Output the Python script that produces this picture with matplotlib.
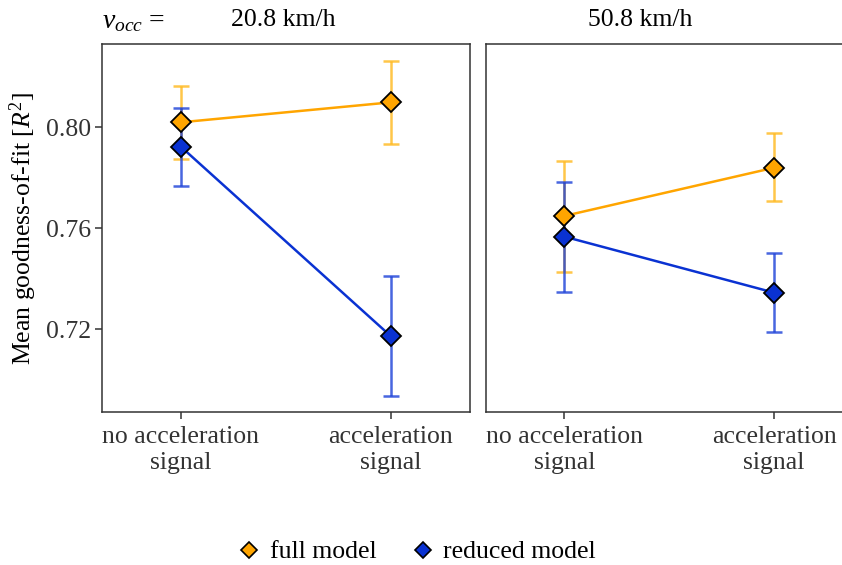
import matplotlib
matplotlib.use("Agg")
import matplotlib.pyplot as plt
from matplotlib.lines import Line2D

plt.rcParams['font.family'] = ['Liberation Serif', 'DejaVu Serif']
plt.rcParams['mathtext.fontset'] = 'custom'
plt.rcParams['mathtext.rm'] = 'Liberation Serif'
plt.rcParams['mathtext.it'] = 'Liberation Serif:italic'

categories = ["no acceleration\nsignal", "acceleration\nsignal"]
speeds = ["20.8 km/h", "50.8 km/h"]
series = ["full model", "reduced model"]

# values per panel: [no acc, acc]
full_mean = [[0.8019, 0.8098], [0.7648, 0.7839]]
full_lo = [[0.7874, 0.7933], [0.7427, 0.7707]]
full_hi = [[0.8164, 0.8263], [0.7865, 0.7975]]
red_mean = [[0.7922, 0.7172], [0.7566, 0.7344]]
red_lo = [[0.7768, 0.6936], [0.7345, 0.7188]]
red_hi = [[0.8076, 0.7410], [0.7783, 0.7500]]

yticks = [0.72, 0.76, 0.80]

c_full = "#FFA500"
c_red = "#0A32D2"
c_full_err = "#FFB81C"
c_red_err = "#1A40D8"
frame = "#333333"
FS = 18.5

W, H = 842, 565
fig = plt.figure(figsize=(W / 100, H / 100), dpi=100)

def px(x0, y0, x1, y1):
    return [x0 / W, 1 - y1 / H, (x1 - x0) / W, (y1 - y0) / H]

axes = [fig.add_axes(px(102.3, 44.3, 470, 412.3)),
        fig.add_axes(px(485.7, 44.3, 853.4, 412.3))]

x = [1, 2]
for i, ax in enumerate(axes):
    for mean, lo, hi, ce, zb in [(full_mean[i], full_lo[i], full_hi[i], c_full_err, 2),
                                 (red_mean[i], red_lo[i], red_hi[i], c_red_err, 3)]:
        yerr = [[m - l for m, l in zip(mean, lo)], [h - m for m, h in zip(mean, hi)]]
        ax.errorbar(x, mean, yerr=yerr, fmt='none', ecolor=ce, elinewidth=1.8,
                    capsize=5.8, capthick=1.8, alpha=0.8, zorder=zb)
    ax.plot(x, full_mean[i], color=c_full, lw=1.8, zorder=4)
    ax.plot(x, red_mean[i], color=c_red, lw=1.8, zorder=4)
    ax.plot(x, full_mean[i], ls='none', marker='D', ms=10, mfc=c_full, mec='black',
            mew=1.3, zorder=6)
    ax.plot(x, red_mean[i], ls='none', marker='D', ms=10, mfc=c_red, mec='black',
            mew=1.3, zorder=6)
    ax.set_xlim(0.625, 2.378)
    ax.set_ylim(0.6870, 0.8328)
    ax.set_xticks(x)
    ax.set_xticklabels(categories, fontsize=FS, color='#333333', linespacing=1.2)
    ax.set_yticks(yticks)
    ax.set_yticklabels([f"{v:.2f}" for v in yticks], fontsize=FS, color='#333333')
    for s in ax.spines.values():
        s.set_color(frame)
        s.set_linewidth(1.1)
    ax.tick_params(axis='both', length=5, width=1.1, color=frame, pad=3)
    ax.tick_params(axis='x', pad=5)
    if i == 1:
        ax.tick_params(axis='y', left=False, labelleft=False)

axes[0].set_ylabel(r"Mean goodness-of-fit [$\it{R}^2$]", fontsize=FS, labelpad=5)

fig.text(283 / W, 1 - 20 / H, speeds[0], ha='center', va='center', fontsize=FS)
fig.text(640 / W, 1 - 20 / H, speeds[1], ha='center', va='center', fontsize=FS)
fig.text(102 / W, 1 - 22 / H, r"$\it{v}_{\it{occ}}$ =", ha='left', va='center', fontsize=20)

handles = [Line2D([], [], ls='none', marker='D', ms=8, mfc=c_full, mec='black', mew=1.2),
           Line2D([], [], ls='none', marker='D', ms=8, mfc=c_red, mec='black', mew=1.2)]
fig.legend(handles, series, loc='center', bbox_to_anchor=(416 / W, 1 - 552 / H),
           ncol=2, frameon=False, fontsize=FS, handletextpad=0.3, columnspacing=1.3,
           handlelength=1.0)

fig.savefig("out.png", dpi=100)
